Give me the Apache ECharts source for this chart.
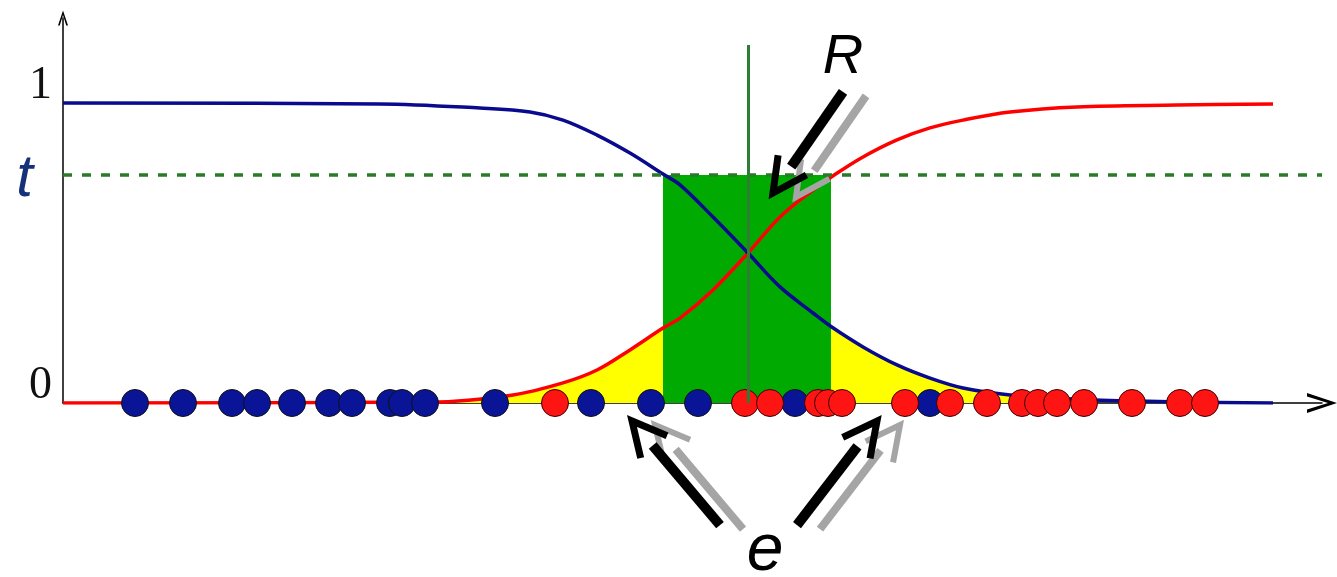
<!DOCTYPE html>
<html>
<head>
<meta charset="utf-8">
<title>Threshold band</title>
<script src="https://cdn.jsdelivr.net/npm/echarts@6/dist/echarts.min.js"></script>
<style>
  html, body { margin: 0; padding: 0; background: #fff; }
  #chart { width: 1337px; height: 577px; }
</style>
</head>
<body>
<div id="chart"></div>
<script>
// curves (x in axis units, y in 0..1)
const blueX = [0, 317, 417, 467, 500, 534, 567, 600, 617, 650, 685, 717, 750, 768, 800, 834, 867, 900, 947, 1030, 1210];
const blueY = [1.0, 0.997, 0.983, 0.97, 0.943, 0.893, 0.833, 0.763, 0.727, 0.62, 0.5, 0.387, 0.3, 0.255, 0.187, 0.127, 0.083, 0.05, 0.027, 0.01, 0];
const redX = [0, 367, 450, 500, 534, 567, 600, 617, 650, 685, 717, 750, 769, 800, 834, 867, 900, 947, 1014, 1114, 1210];
const redY = [0, 0.003, 0.027, 0.067, 0.11, 0.177, 0.25, 0.283, 0.377, 0.5, 0.62, 0.71, 0.755, 0.82, 0.877, 0.917, 0.943, 0.97, 0.987, 0.993, 0.997];

// samples on the axis
const blueDotsX = [72, 120, 169, 194, 229, 266, 289, 327, 339, 362, 432, 528, 588, 635, 732, 867];
const redDotsX = [492, 682, 707, 755, 765, 779, 842, 887, 924, 959, 975, 994, 1021, 1069, 1117, 1142];

// threshold and band
const tLevel = 0.76;
const bandLeft = 600;
const bandRight = 768;
const splitX = 685;
const splitTop = 1.193;

// annotations: arrows [tailX, tailY, tipX, tipY] and letters
const arrows = [
  [780, 1.037, 710, 0.70],
  [657, -0.407, 569, -0.06],
  [734, -0.407, 814, -0.06]
];
const labelText = ['R', 'e'];
const labelX = [780, 702];
const labelY = [1.153, -0.497];
const labelSize = [56, 66];

const pairs = (xs, ys) => xs.map((x, i) => [x, ys[i]]);
const blueLine = pairs(blueX, blueY);
const redLine = pairs(redX, redY);
const leftYellow = redLine.filter(p => p[0] >= 367 && p[0] <= bandLeft);
const rightYellow = blueLine.filter(p => p[0] >= bandRight && p[0] <= 1030);

const chevron = 'path://M0,30 L10,0 L20,30 L16.5,30 L10,9 L3.5,30 Z';

function renderArrow(params, api) {
  const tail = api.coord([api.value(0), api.value(1)]);
  const tip = api.coord([api.value(2), api.value(3)]);
  const dx = tip[0] - tail[0], dy = tip[1] - tail[1];
  const len = Math.hypot(dx, dy);
  const ux = dx / len, uy = dy / len;
  const back = Math.atan2(-uy, -ux);
  const spread = 27 * Math.PI / 180;
  const headLen = 38;
  const arm = s => [tip[0] + headLen * Math.cos(back + s * spread), tip[1] + headLen * Math.sin(back + s * spread)];
  const shaftEnd = [tip[0] - ux * 32, tip[1] - uy * 32];

  const one = (off, color, shaftW, headW) => {
    const sh = p => [p[0] + off[0], p[1] + off[1]];
    const a = sh(tail), b = sh(shaftEnd);
    return [
      { type: 'line', shape: { x1: a[0], y1: a[1], x2: b[0], y2: b[1] }, style: { stroke: color, lineWidth: shaftW } },
      { type: 'polyline', shape: { points: [sh(arm(1)), sh(tip), sh(arm(-1))] },
        style: { stroke: color, lineWidth: headW, fill: null, lineJoin: 'miter' } }
    ];
  };
  return {
    type: 'group',
    children: one([23, 4], '#a5a5a5', 8, 6).concat(one([0, 0], '#000', 10, 7))
  };
}

function renderLabel(params, api) {
  const p = api.coord([api.value(0), api.value(1)]);
  const i = params.dataIndex;
  return {
    type: 'text',
    x: p[0], y: p[1],
    style: {
      text: labelText[i],
      fontSize: labelSize[i],
      fontStyle: 'italic',
      fontFamily: 'Liberation Sans, Arial, sans-serif',
      fill: '#000',
      align: 'center',
      verticalAlign: 'middle'
    }
  };
}

const chart = echarts.init(document.getElementById('chart'));
chart.setOption({
  animation: false,
  backgroundColor: '#fff',
  grid: { left: 63, right: 15, top: 18, bottom: 174 },
  xAxis: {
    type: 'value',
    min: 0, max: 1259,
    axisLine: { show: true, onZero: false, symbol: ['none', chevron], symbolSize: [20, 30],
      lineStyle: { color: '#000', width: 1.5 } },
    axisTick: { show: false },
    axisLabel: { show: false },
    splitLine: { show: false }
  },
  yAxis: {
    type: 'value',
    min: 0, max: 1.2833, interval: 1,
    axisLine: { show: true, onZero: false, symbol: ['none', chevron], symbolSize: [10, 16],
      lineStyle: { color: '#000', width: 1.5 } },
    axisTick: { show: false },
    splitLine: { show: false },
    axisLabel: {
      showMaxLabel: false,
      margin: 11,
      fontFamily: 'Liberation Serif, serif',
      fontSize: 46,
      color: '#111',
      verticalAlign: 'bottom',
      lineHeight: 34
    }
  },
  series: [
    {
      name: 'left tail', type: 'line', z: 1, data: leftYellow,
      smooth: 0.35, symbol: 'none', silent: true,
      lineStyle: { width: 0 }, areaStyle: { color: '#ffff00', opacity: 1 },
      markArea: {
        silent: true,
        itemStyle: { color: '#00aa00' },
        data: [[{ coord: [bandLeft, 0] }, { coord: [bandRight, tLevel] }]]
      }
    },
    {
      name: 'right tail', type: 'line', z: 1, data: rightYellow,
      smooth: 0.35, symbol: 'none', silent: true,
      lineStyle: { width: 0 }, areaStyle: { color: '#ffff00', opacity: 1 }
    },
    {
      name: 'guides', type: 'line', z: 2, data: [], silent: true,
      markLine: {
        silent: true,
        symbol: 'none',
        data: [
          {
            yAxis: tLevel,
            lineStyle: { color: '#2a7a2a', width: 3.5, type: [9, 10] },
            label: {
              show: true, position: 'start', formatter: 't', distance: 30,
              fontSize: 60, fontStyle: 'italic', fontFamily: 'Liberation Sans, Arial, sans-serif',
              color: '#16307a', offset: [0, 4]
            }
          },
          [
            { coord: [splitX, 0], lineStyle: { color: '#2e7d32', width: 3, type: 'solid' }, label: { show: false } },
            { coord: [splitX, splitTop] }
          ]
        ]
      }
    },
    {
      name: 'red curve', type: 'line', z: 3, data: redLine,
      smooth: 0.35, symbol: 'none', silent: true,
      lineStyle: { color: '#ff0000', width: 3.5 }
    },
    {
      name: 'blue curve', type: 'line', z: 3, data: blueLine,
      smooth: 0.35, symbol: 'none', silent: true,
      lineStyle: { color: '#0a0a8f', width: 3.5 }
    },
    {
      name: 'blue dots', type: 'scatter', z: 4, symbolSize: 27,
      data: blueDotsX.map(x => [x, 0]),
      itemStyle: { color: '#0a1496', borderColor: '#111', borderWidth: 1, opacity: 1 }
    },
    {
      name: 'red dots', type: 'scatter', z: 4, symbolSize: 27,
      data: redDotsX.map(x => [x, 0]),
      itemStyle: { color: '#ff1414', borderColor: '#3a0000', borderWidth: 1, opacity: 1 }
    },
    {
      name: 'arrows', type: 'custom', z: 5, silent: true, clip: false,
      renderItem: renderArrow,
      encode: { x: [0, 2], y: [1, 3] },
      data: arrows
    },
    {
      name: 'letters', type: 'custom', z: 5, silent: true, clip: false,
      renderItem: renderLabel,
      encode: { x: 0, y: 1 },
      data: labelX.map((x, i) => [x, labelY[i]])
    }
  ]
});
</script>
</body>
</html>
